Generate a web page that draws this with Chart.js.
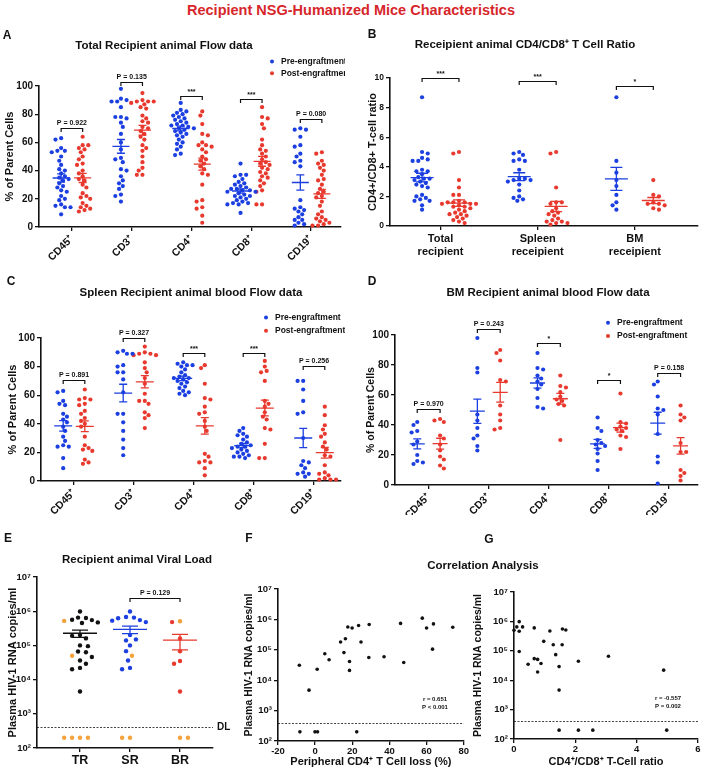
<!DOCTYPE html>
<html lang="en">
<head>
    <meta charset="UTF-8">
    <title>Recipient NSG-Humanized Mice Characteristics</title>
    <script src="https://cdn.jsdelivr.net/npm/chart.js"></script>
    <style>
        body {
            margin: 0;
            background: #fff;
            font-family: "Liberation Sans", Arial, sans-serif;
        }
        #wrap {
            position: relative;
            width: 702px;
            height: 769px;
            overflow: hidden;
        }
        #wrap canvas, .t {
            position: absolute;
        }
        .t {
            font-weight: bold;
            color: #111;
            white-space: nowrap;
            transform: translate(-50%, -50%);
            line-height: 1;
        }
        .letter { font-size: 12px; }
        .title { font-size: 11.5px; }
        #main { font-size: 14.5px; color: #d7262b; }
    </style>
</head>
<body>
<div id="wrap">
    <div class="t" id="main" style="left:351px;top:10px">Recipient NSG-Humanized Mice Characteristics</div>
    <div class="t letter" style="left:7px;top:35px">A</div>
    <div class="t letter" style="left:372px;top:34px">B</div>
    <div class="t letter" style="left:11px;top:281px">C</div>
    <div class="t letter" style="left:372px;top:281px">D</div>
    <div class="t letter" style="left:8px;top:538px">E</div>
    <div class="t letter" style="left:249px;top:538px">F</div>
    <div class="t letter" style="left:489px;top:539px">G</div>
    <div class="t title" style="left:164px;top:46px">Total Recipient animal Flow data</div>
    <div class="t title" style="left:525px;top:45px">Receipient animal CD4/CD8⁺ T Cell Ratio</div>
    <div class="t title" style="left:191px;top:293px">Spleen Recipient animal blood Flow data</div>
    <div class="t title" style="left:548px;top:293px">BM Recipient animal blood Flow data</div>
    <div class="t title" style="left:137px;top:560px">Recipient animal Viral Load</div>
    <div class="t title" style="left:483px;top:566px">Correlation Analysis</div>
</div>

<script>
    // ---- data ----
    const flowCats = ['CD45⁺', 'CD3⁺', 'CD4⁺', 'CD8⁺', 'CD19⁺'];

    const totalPre = [
        [63, 62, 56, 54, 54, 53, 50, 47, 44, 41, 40, 38, 36, 35, 34, 33, 31, 29, 28, 26, 25, 22, 20, 19, 16, 15, 14, 14, 9],
        [98, 91, 90, 89, 89, 85, 78, 78, 77, 74, 71, 66, 60, 55, 49, 48, 46, 41, 40, 36, 33, 31, 29, 27, 23, 22, 18],
        [88, 83, 82, 81, 80, 79, 78, 77, 76, 75, 74, 73, 72, 72, 71, 70, 70, 69, 68, 67, 66, 65, 64, 62, 60, 59, 57, 55, 52, 51],
        [45, 37, 37, 36, 34, 32, 31, 30, 29, 28, 27, 27, 26, 26, 25, 25, 24, 23, 22, 22, 21, 20, 19, 18, 17, 17, 16, 16, 10],
        [70, 69, 69, 64, 58, 57, 52, 50, 47, 46, 43, 19, 14, 13, 12, 11, 9, 7, 5, 5, 3, 2, 1]
    ];
    const totalPost = [
        [64, 58, 58, 56, 55, 53, 50, 48, 45, 44, 40, 38, 36, 34, 33, 30, 28, 24, 22, 21, 20, 17, 15, 14, 13, 12, 11],
        [95, 90, 89, 89, 89, 88, 87, 85, 84, 79, 77, 75, 74, 71, 70, 68, 66, 64, 62, 58, 56, 54, 50, 46, 42, 40, 37, 37],
        [82, 79, 73, 66, 65, 60, 58, 58, 57, 55, 53, 50, 48, 47, 45, 43, 41, 38, 37, 30, 19, 18, 14, 13, 8, 3],
        [85, 78, 77, 73, 70, 62, 58, 55, 54, 52, 50, 48, 46, 45, 44, 42, 41, 39, 38, 36, 35, 33, 31, 29, 26, 25, 16, 16],
        [53, 52, 47, 45, 44, 42, 40, 37, 34, 33, 30, 27, 25, 24, 22, 21, 18, 15, 11, 9, 7, 6, 5, 4, 3, 2, 1, 1]
    ];
    const totalP = ['P = 0.922', 'P = 0.135', '***', '***', 'P = 0.080'];
    const totalBarY = [70, 103, 93, 91, 76.5];

    const ratioCats = [['Total', 'recipient'], ['Spleen', 'receipient'], ['BM', 'receipient']];
    const ratioPre = [
        [8.7, 5.0, 4.9, 4.6, 4.5, 4.4, 4.4, 3.8, 3.7, 3.7, 3.5, 3.3, 3.2, 3.2, 3.1, 3.0, 2.9, 2.8, 2.7, 2.6, 2.1, 2.0, 1.9, 1.8, 1.7, 1.7, 1.4, 1.1],
        [5.0, 4.9, 4.8, 4.5, 4.4, 4.4, 3.8, 3.2, 3.2, 3.1, 3.1, 3.0, 2.8, 2.4, 2.0, 1.9, 1.8, 1.7],
        [8.7, 4.4, 3.6, 3.1, 2.7, 2.1, 1.6, 1.4, 1.1]
    ];
    const ratioPost = [
        [5.0, 4.9, 3.1, 2.6, 2.1, 2.1, 1.7, 1.6, 1.6, 1.6, 1.5, 1.5, 1.5, 1.4, 1.3, 1.3, 1.2, 1.1, 1.0, 0.9, 0.8, 0.8, 0.7, 0.6, 0.5, 0.4, 0.3, 0.2],
        [5.0, 4.9, 2.6, 1.6, 1.6, 1.5, 1.2, 1.0, 0.9, 0.8, 0.7, 0.5, 0.4, 0.3, 0.3, 0.2, 0.2, 0.1],
        [3.1, 2.1, 2.0, 1.6, 1.5, 1.5, 1.4, 1.2, 1.1]
    ];
    const ratioP = ['***', '***', '*'];
    const ratioBarY = [10, 9.8, 9.45];

    const spleenPre = [
        [63, 62, 56, 54, 53, 47, 45, 43, 41, 38, 35, 31, 28, 25, 24, 24, 16, 9],
        [91, 90, 89, 89, 81, 80, 76, 76, 71, 62, 47, 47, 41, 35, 29, 23, 18],
        [83, 82, 81, 81, 80, 78, 76, 74, 73, 72, 72, 71, 70, 69, 68, 66, 65, 63, 62, 61, 60],
        [37, 35, 33, 32, 31, 29, 27, 26, 25, 24, 24, 23, 22, 21, 20, 19, 18, 17, 17, 16],
        [70, 70, 64, 56, 48, 47, 30, 14, 13, 11, 9, 6, 5, 5, 3]
    ];
    const spleenPost = [
        [64, 58, 57, 57, 54, 53, 49, 47, 44, 42, 40, 38, 31, 25, 23, 22, 21, 15, 13, 12],
        [94, 90, 89, 89, 88, 88, 83, 79, 76, 72, 68, 61, 56, 56, 54, 48, 46, 44, 37],
        [81, 79, 68, 58, 57, 52, 48, 47, 42, 38, 35, 19, 17, 14, 13, 13, 9, 4],
        [84, 80, 77, 76, 70, 56, 54, 52, 48, 45, 43, 37, 36, 26, 16, 16],
        [52, 46, 39, 36, 33, 31, 27, 24, 22, 18, 17, 11, 6, 5, 4, 2, 1, 1, 1]
    ];
    const spleenP = ['P = 0.891', 'P = 0.327', '***', '***', 'P = 0.256'];
    const spleenBarY = [70.4, 100.2, 89.5, 89.7, 80.4];

    const bmPre = [
        [42, 40, 36, 35, 29, 27, 20, 16, 15, 14],
        [98, 78, 75, 47, 43, 38, 33, 31, 26, 23],
        [88, 78, 77, 73, 71, 69, 67, 64, 58, 52, 51],
        [45, 38, 36, 30, 28, 27, 26, 24, 21, 16, 10],
        [69, 67, 59, 51, 50, 47, 34, 19, 15, 1]
    ];
    const bmPost = [
        [44, 43, 42, 33, 31, 27, 23, 19, 17, 13, 11],
        [90, 88, 83, 70, 69, 53, 47, 43, 38, 37],
        [73, 66, 65, 62, 59, 57, 56, 54, 53, 30],
        [61, 42, 41, 39, 38, 37, 36, 33, 32, 24],
        [53, 47, 45, 43, 28, 22, 22, 10, 8, 6, 3]
    ];
    const bmP = ['P = 0.970', 'P = 0.243', '*', '*', 'P = 0.158'];
    const bmBarY = [51, 103.8, 94.4, 70, 75];

    const loadCats = ['TR', 'SR', 'BR'];
    const trBlack = [9.8e5, 6.5e5, 6.3e5, 5.6e5, 5.5e5, 4.7e5, 4.5e5, 2.0e5, 1.9e5, 1.6e5, 1.0e5, 9.5e4, 6.6e4, 6.3e4, 4.6e4, 3.6e4, 2.9e4, 2.2e4, 2.0e4, 4.5e3];
    const trOrange = [5.2e5, 5.0e4];
    const trBelow = [200, 200, 200, 200];
    const srBlue = [9.8e5, 6.8e5, 6.5e5, 6.2e5, 5.5e5, 5.3e5, 4.8e5, 2.0e5, 1.5e5, 1.4e5, 1.0e5, 6.8e4, 3.6e4, 2.2e4, 2.0e4];
    const srOrange = [5.0e4];
    const srBelow = [200, 200];
    const brRed = [4.8e5, 1.6e5, 6.7e4, 3.5e4, 2.9e4, 4.5e3];
    const brOrange = [5.1e5];
    const brBelow = [200, 200];
    const detectionLimit = 400;

    const fLoss = [-8.5, -3.3, 1.1, 5.2, 7.5, 13.7, 16.3, 15.5, 17.6, 18.5, 18.5, 19.9, 23.4, 24.7, 29.1, 28.9, 37.1, 46, 47.7, 57.7, 60, 63.7, 63.2, 74.1, -8.2, -0.1, 1.3, 22.4];
    const fLoad = [3.1e4, 4.7e3, 2.3e4, 7.4e4, 4.7e4, 1.8e5, 2.3e5, 8.1e4, 5.6e5, 4.1e4, 2.1e4, 5.2e5, 6.3e5, 1.8e5, 6.8e5, 5.6e4, 5.9e4, 7.4e5, 3.8e4, 1.1e6, 5.2e5, 7.1e5, 1.05e5, 5.5e5, 200, 200, 200, 200];
    const gRatio = [0, 0.09, 0.17, 0.17, 0.28, 0.17, 0.46, 0.66, 0.66, 0.77, 0.77, 0.88, 0.97, 1.17, 1.28, 1.36, 1.47, 1.47, 1.57, 1.58, 1.69, 2.1, 3.08, 4.88, 1.47, 2.1, 2.57, 4.98];
    const gLoad = [5e5, 6.5e5, 9.8e5, 4.6e5, 6.5e5, 9.5e4, 3.5e4, 6e5, 5.4e4, 5.1e4, 1.9e4, 3.7e4, 2.1e5, 4.7e5, 1.6e5, 7.4e4, 2.9e4, 4.6e3, 1.6e5, 5.5e5, 5.1e5, 4.4e4, 6.5e4, 2.2e4, 200, 200, 200, 200];

    // ---- layout (page pixels) ----
    const panelA = { box: [0, 30, 345, 235], plot: [39, 86, 343, 227], x: [-0.55, 4.5], y: [0, 100] };
    const panelB = { box: [345, 30, 357, 230], plot: [390, 78, 698, 226], x: [-0.52, 2.65], y: [0, 10] };
    const panelC = { box: [0, 265, 345, 250], plot: [41, 338, 344, 481], x: [-0.55, 4.45], y: [0, 100] };
    const panelD = { box: [345, 265, 357, 250], plot: [395, 335, 700, 485], x: [-0.56, 4.48], y: [0, 100] };
    const panelE = { box: [0, 520, 240, 249], plot: [37, 577, 213, 748], x: [-0.86, 2.66], y: [100, 1e7], log: true };
    const panelF = { box: [240, 520, 230, 249], plot: [278, 589, 466, 741], x: [-20, 80], y: [100, 1e7], log: true };
    const panelG = { box: [470, 520, 232, 249], plot: [514, 592, 698, 739], x: [0, 6], y: [100, 1e7], log: true };

    const INK = '#111', BLUE = '#1b3fe0', RED = '#e8392e', ORANGE = '#f4a23a';
    const FONT = '"Liberation Sans", Arial, sans-serif';
    const SUP = ['⁰', '¹', '²', '³', '⁴', '⁵', '⁶', '⁷', '⁸', '⁹'];
    Chart.defaults.font.family = FONT;
    Chart.defaults.color = INK;

    function meanSem(vals) {
        const n = vals.length;
        const m = vals.reduce((a, b) => a + b, 0) / n;
        const sd = Math.sqrt(vals.reduce((a, b) => a + (b - m) * (b - m), 0) / (n - 1));
        return [m, sd / Math.sqrt(n)];
    }

    function yPx(p, v) {
        const f = p.log
            ? (Math.log10(v) - Math.log10(p.y[0])) / (Math.log10(p.y[1]) - Math.log10(p.y[0]))
            : (v - p.y[0]) / (p.y[1] - p.y[0]);
        return p.plot[3] - f * (p.plot[3] - p.plot[1]);
    }

    // simple beeswarm: spread points sideways so they don't overlap
    function swarm(values, p, cx, r, gap) {
        const ux = (p.plot[2] - p.plot[0]) / (p.x[1] - p.x[0]);
        const d = 2 * r + gap;
        const placed = [];
        const out = new Array(values.length);
        values.map((v, i) => ({ v, i })).sort((a, b) => b.v - a.v).forEach(({ v, i }) => {
            const py = yPx(p, v);
            let off = 0;
            for (let k = 0; k < 80; k++) {
                const sign = (k + placed.length) % 2 ? 1 : -1;
                const cand = k === 0 ? 0 : sign * Math.ceil(k / 2) * r * 0.9;
                if (placed.every(q => Math.hypot(q[0] - cand, q[1] - py) >= d)) { off = cand; break; }
            }
            placed.push([off, py]);
            out[i] = { x: cx + off / ux, y: v };
        });
        return out;
    }

    const decor = {
        id: 'decor',
        afterDatasetsDraw(chart) {
            const o = chart.canvas.decor;
            if (!o) return;
            const ctx = chart.ctx, xs = chart.scales.x, ys = chart.scales.y, area = chart.chartArea;
            ctx.save();
            ctx.lineCap = 'butt';
            (o.groups || []).forEach(g => {
                const [m, se] = meanSem(g.values);
                const cx = xs.getPixelForValue(g.x);
                const ym = ys.getPixelForValue(m);
                const yt = ys.getPixelForValue(m + se);
                const yb = ys.getPixelForValue(m - se);
                ctx.strokeStyle = g.color;
                ctx.lineWidth = 1.3;
                ctx.beginPath();
                ctx.moveTo(cx - o.meanW, ym); ctx.lineTo(cx + o.meanW, ym);
                ctx.moveTo(cx, yt); ctx.lineTo(cx, yb);
                ctx.moveTo(cx - o.capW, yt); ctx.lineTo(cx + o.capW, yt);
                ctx.moveTo(cx - o.capW, yb); ctx.lineTo(cx + o.capW, yb);
                ctx.stroke();
            });
            ctx.fillStyle = INK;
            ctx.strokeStyle = INK;
            ctx.textAlign = 'center';
            ctx.textBaseline = 'bottom';
            (o.brackets || []).forEach(b => {
                const y = Math.round(ys.getPixelForValue(b.y)) + 0.5;
                const x1 = xs.getPixelForValue(b.x1), x2 = xs.getPixelForValue(b.x2);
                ctx.lineWidth = 1.2;
                ctx.beginPath();
                ctx.moveTo(x1, y + 3.5); ctx.lineTo(x1, y); ctx.lineTo(x2, y); ctx.lineTo(x2, y + 3.5);
                ctx.stroke();
                ctx.font = 'bold 7px ' + FONT;
                ctx.fillText(b.text, (x1 + x2) / 2, b.text[0] === '*' ? y - 0.5 : y - 2);
            });
            if (o.legend) {
                const L = o.legend;
                ctx.textAlign = 'left';
                ctx.textBaseline = 'middle';
                ctx.font = 'bold 8.5px ' + FONT;
                L.items.forEach((it, i) => {
                    const y = L.y + i * L.gap;
                    ctx.fillStyle = it.color;
                    ctx.beginPath();
                    ctx.arc(L.x, y, 2, 0, Math.PI * 2);
                    ctx.fill();
                    ctx.fillStyle = INK;
                    ctx.fillText(it.text, L.x + 9, y);
                });
            }
            if (o.dl) {
                const y = Math.round(ys.getPixelForValue(o.dl.value)) + 0.5;
                ctx.lineWidth = 0.8;
                ctx.setLineDash([2, 1.5]);
                ctx.beginPath();
                ctx.moveTo(area.left, y); ctx.lineTo(area.right, y);
                ctx.stroke();
                ctx.setLineDash([]);
                if (o.dl.label) {
                    ctx.textAlign = 'left';
                    ctx.textBaseline = 'middle';
                    ctx.font = 'bold 10px ' + FONT;
                    ctx.fillText(o.dl.label, area.right + 4, y);
                }
            }
            if (o.note) {
                ctx.textAlign = 'center';
                ctx.textBaseline = 'middle';
                ctx.font = 'bold 6px ' + FONT;
                o.note.lines.forEach((t, i) => ctx.fillText(t, o.note.x, o.note.y + i * 8));
            }
            ctx.restore();
        }
    };

    function axisBase() {
        return {
            grid: { display: true, drawOnChartArea: false, drawTicks: true, tickLength: 4, color: INK, lineWidth: 1.3 },
            border: { display: true, color: INK, width: 1.6 }
        };
    }

    function tickFont(size) {
        return { family: FONT, size: size, weight: 'bold' };
    }

    function build(p, datasets, xOpts, yOpts, decorOpts) {
        const cv = document.createElement('canvas');
        cv.width = p.box[2];
        cv.height = p.box[3];
        cv.style.left = p.box[0] + 'px';
        cv.style.top = p.box[1] + 'px';
        cv.decor = decorOpts;
        document.getElementById('wrap').insertBefore(cv, document.getElementById('main'));
        const yW = p.plot[0] - p.box[0];
        const xH = p.box[1] + p.box[3] - p.plot[3];
        return new Chart(cv, {
            type: 'scatter',
            data: { datasets },
            options: {
                responsive: false,
                animation: false,
                events: [],
                layout: { padding: { top: p.plot[1] - p.box[1], right: p.box[0] + p.box[2] - p.plot[2], left: 0, bottom: 0 } },
                plugins: { legend: { display: false }, tooltip: { enabled: false } },
                scales: {
                    x: Object.assign(axisBase(), { type: 'linear', min: p.x[0], max: p.x[1], afterFit: s => { s.height = xH; } }, xOpts),
                    y: Object.assign(axisBase(), { type: p.log ? 'logarithmic' : 'linear', min: p.y[0], max: p.y[1], afterFit: s => { s.width = yW; } }, yOpts)
                }
            },
            plugins: [decor]
        });
    }

    function dots(data, color, r) {
        return { data, backgroundColor: color, borderWidth: 0, pointRadius: r, clip: false };
    }

    function catAxis(cats, size, rotate, pad) {
        return {
            afterBuildTicks: s => { s.ticks = cats.map((_, i) => ({ value: i })); },
            ticks: {
                callback: v => cats[v], font: tickFont(size), autoSkip: false,
                minRotation: rotate, maxRotation: rotate, padding: pad
            }
        };
    }

    function logAxis(titleText, titleSize, titlePad) {
        return {
            afterBuildTicks: s => { s.ticks = [100, 1e3, 1e4, 1e5, 1e6, 1e7].map(v => ({ value: v })); },
            ticks: { callback: v => '10' + SUP[Math.round(Math.log10(v))], font: tickFont(9.5), padding: 2 },
            title: { display: true, text: titleText, font: tickFont(titleSize), padding: { top: titlePad, bottom: 0 } }
        };
    }

    function groupChart(p, cats, pre, post, pTexts, barY, opt) {
        const preX = cats.map((_, i) => i - opt.shift);
        const postX = cats.map((_, i) => i + opt.shift);
        const prePts = pre.flatMap((v, i) => swarm(v, p, preX[i], 2.1, 0.1));
        const postPts = post.flatMap((v, i) => swarm(v, p, postX[i], 2.1, 0.1));
        const groups = pre.map((v, i) => ({ x: preX[i], values: v, color: BLUE }))
            .concat(post.map((v, i) => ({ x: postX[i], values: v, color: RED })));
        const brackets = pTexts.map((t, i) => ({ x1: preX[i], x2: postX[i], y: barY[i], text: t }));
        const decorOpts = { groups, brackets, meanW: opt.meanW, capW: opt.capW };
        if (opt.legend) {
            decorOpts.legend = Object.assign({
                items: [{ color: BLUE, text: 'Pre-engraftment' }, { color: RED, text: 'Post-engraftment' }]
            }, opt.legend);
        }
        build(p, [dots(prePts, BLUE, 2.1), dots(postPts, RED, 2.1)],
            catAxis(cats, opt.xSize, opt.rotate, opt.xPad),
            {
                ticks: { stepSize: opt.step, font: tickFont(opt.ySize), padding: 2 },
                title: { display: true, text: opt.yTitle, font: tickFont(opt.yTitleSize || 11), padding: { top: opt.yTitlePad, bottom: 0 } }
            },
            decorOpts);
    }

    groupChart(panelA, flowCats, totalPre, totalPost, totalP, totalBarY, {
        shift: 0.18, meanW: 8.5, capW: 4, rotate: 45, xSize: 10.5, xPad: 2, ySize: 10, step: 20,
        yTitle: '% of Parent Cells', yTitlePad: 3.4, legend: { x: 272, y: 31.5, gap: 11.8 }
    });
    groupChart(panelB, ratioCats, ratioPre, ratioPost, ratioP, ratioBarY, {
        shift: 0.19, meanW: 11.5, capW: 6, rotate: 0, xSize: 11, xPad: 2, ySize: 8.5, step: 2,
        yTitle: 'CD4+/CD8+ T-cell ratio', yTitlePad: 21.4
    });
    groupChart(panelC, flowCats, spleenPre, spleenPost, spleenP, spleenBarY, {
        shift: 0.18, meanW: 9, capW: 4, rotate: 45, xSize: 10.5, xPad: 2, ySize: 10, step: 20,
        yTitle: '% of Parent Cells', yTitlePad: 6.4, legend: { x: 266, y: 52.5, gap: 13.3 }
    });
    groupChart(panelD, flowCats, bmPre, bmPost, bmP, bmBarY, {
        shift: 0.19, meanW: 7.5, capW: 4, rotate: 45, xSize: 10.5, xPad: 2, ySize: 10, step: 20,
        yTitle: '% of Parent Cells', yTitleSize: 10.5, yTitlePad: 19.5, legend: { x: 263, y: 57.7, gap: 13.3 }
    });

    // ---- E: viral load per recipient group ----
    const trAll = trBlack.concat(trOrange, trBelow);
    const srAll = srBlue.concat(srOrange, srBelow);
    const brAll = brRed.concat(brOrange, brBelow);
    const trPts = swarm(trAll, panelE, 0, 2.2, 1.8);
    const srPts = swarm(srAll, panelE, 1, 2.2, 1.8);
    const brPts = swarm(brAll, panelE, 2, 2.2, 1.8);
    build(panelE, [
        dots(trPts.slice(0, trBlack.length), INK, 2.2),
        dots(srPts.slice(0, srBlue.length), BLUE, 2.2),
        dots(brPts.slice(0, brRed.length), RED, 2.2),
        dots(trPts.slice(trBlack.length).concat(srPts.slice(srBlue.length), brPts.slice(brRed.length)), ORANGE, 2.2)
    ],
        catAxis(loadCats, 12.5, 0, 1),
        logAxis('Plasma HIV-1 RNA copies/ml', 11, 6.4),
        {
            groups: [
                { x: 0, values: trAll, color: INK },
                { x: 1, values: srAll, color: BLUE },
                { x: 2, values: brAll, color: RED }
            ],
            meanW: 17, capW: 8,
            brackets: [{ x1: 1, x2: 2, y: 2.5e6, text: 'P = 0.129' }],
            dl: { value: detectionLimit, label: 'DL' }
        });

    // ---- F, G: correlations ----
    build(panelF, [dots(fLoss.map((x, i) => ({ x, y: fLoad[i] })), INK, 1.8)],
        {
            ticks: { stepSize: 20, font: tickFont(9.5), padding: 1 },
            title: { display: true, text: 'Peripheral CD4⁺ T Cell loss (%)', font: tickFont(11), padding: { top: 0, bottom: 0.5 } }
        },
        logAxis('Plasma HIV-1 RNA copies/ml', 10.5, 2.4),
        { dl: { value: detectionLimit }, note: { x: 195, y: 179, lines: ['r = 0.651', 'P < 0.001'] } });

    build(panelG, [dots(gRatio.map((x, i) => ({ x, y: gLoad[i] })), INK, 1.8)],
        {
            ticks: { stepSize: 2, font: tickFont(9.5), padding: 1 },
            title: { display: true, text: 'CD4⁺/CD8⁺ T-Cell ratio', font: tickFont(11), padding: { top: 0, bottom: 0.5 } }
        },
        logAxis('Plasma HIV-1 RNA copies/ml', 10.5, 1.4),
        { dl: { value: detectionLimit }, note: { x: 198, y: 178, lines: ['r = -0.557', 'P = 0.002'] } });
</script>
</body>
</html>
